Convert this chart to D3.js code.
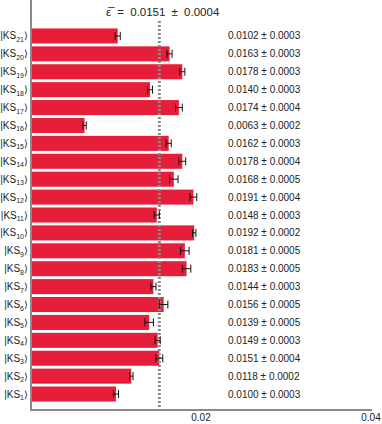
<!DOCTYPE html>
<html>
<head>
<meta charset="utf-8">
<script src="https://cdn.jsdelivr.net/npm/d3@7"></script>
<style>
  body { margin: 0; background: #fff; }
  text { font-family: "Liberation Sans", Arial, sans-serif; }
</style>
</head>
<body>
<svg id="chart" width="382" height="424"></svg>
<script>
// states listed top to bottom
const states = [21, 20, 19, 18, 17, 16, 15, 14, 13, 12, 11, 10, 9, 8, 7, 6, 5, 4, 3, 2, 1];
const values = [0.0102, 0.0163, 0.0178, 0.0140, 0.0174, 0.0063, 0.0162, 0.0178, 0.0168, 0.0191, 0.0148,
  0.0192, 0.0181, 0.0183, 0.0144, 0.0156, 0.0139, 0.0149, 0.0151, 0.0118, 0.0100];
const errors = [0.0003, 0.0003, 0.0003, 0.0003, 0.0004, 0.0002, 0.0003, 0.0004, 0.0005, 0.0004, 0.0003,
  0.0002, 0.0005, 0.0005, 0.0003, 0.0005, 0.0005, 0.0003, 0.0004, 0.0002, 0.0003];
const meanValue = 0.0151;
const meanError = 0.0004;
const xTicks = [0.02, 0.04];

const data = states.map((s, i) => ({ state: s, value: values[i], err: errors[i] }));

const svg = d3.select("#chart");
const x = d3.scaleLinear().domain([0, 0.04]).range([31, 371]);
const y = d3.scaleBand().domain(states).range([27, 403]).paddingInner(0.16).paddingOuter(0.08);
const barColor = "#e61e3a";
const axisColor = "#8a8a8a";

// bars
svg.selectAll(".bar")
  .data(data)
  .join("rect")
  .attr("class", "bar")
  .attr("x", x(0))
  .attr("y", d => y(d.state))
  .attr("width", d => x(d.value) - x(0))
  .attr("height", y.bandwidth())
  .attr("fill", barColor);

// mean line
svg.append("line")
  .attr("x1", x(meanValue)).attr("x2", x(meanValue))
  .attr("y1", 21).attr("y2", 410)
  .attr("stroke", "#8c8c8c")
  .attr("stroke-width", 3)
  .attr("stroke-dasharray", "2,2");

// error bars
const eb = svg.selectAll(".err")
  .data(data)
  .join("g")
  .attr("class", "err")
  .attr("transform", d => `translate(0,${y(d.state) + y.bandwidth() / 2})`);
eb.append("line")
  .attr("x1", d => x(d.value - d.err)).attr("x2", d => x(d.value + d.err))
  .attr("stroke", "#111").attr("stroke-width", 1);
eb.append("line")
  .attr("x1", d => x(d.value - d.err)).attr("x2", d => x(d.value - d.err))
  .attr("y1", -4).attr("y2", 4)
  .attr("stroke", "#111").attr("stroke-width", 1);
eb.append("line")
  .attr("x1", d => x(d.value + d.err)).attr("x2", d => x(d.value + d.err))
  .attr("y1", -4).attr("y2", 4)
  .attr("stroke", "#111").attr("stroke-width", 1);

// state labels
const lab = svg.selectAll(".lab")
  .data(data)
  .join("text")
  .attr("class", "lab")
  .attr("x", 28)
  .attr("y", d => y(d.state) + y.bandwidth() / 2 + 3.5)
  .attr("text-anchor", "end")
  .attr("font-size", 10)
  .attr("fill", "#222");
lab.append("tspan").text("|KS");
lab.append("tspan").attr("font-size", 7).attr("dy", 2.5).text(d => d.state);
lab.append("tspan").attr("dy", -2.5).text("\u27E9");

// value labels
svg.selectAll(".val")
  .data(data)
  .join("text")
  .attr("class", "val")
  .attr("x", 228)
  .attr("y", d => y(d.state) + y.bandwidth() / 2 + 3.5)
  .attr("font-size", 10)
  .attr("fill", "#222")
  .text(d => `${d.value.toFixed(4)} \u00B1 ${d.err.toFixed(4)}`);

// mean title
svg.append("text")
  .attr("x", 106)
  .attr("y", 16)
  .attr("font-size", 11.5)
  .attr("word-spacing", 3)
  .attr("fill", "#222")
  .text(`\u03B5\u0305 = ${meanValue.toFixed(4)} \u00B1 ${meanError.toFixed(4)}`);

// axes
svg.append("line")
  .attr("x1", x(0)).attr("x2", x(0)).attr("y1", 0).attr("y2", 411)
  .attr("stroke", axisColor).attr("stroke-width", 2);
svg.append("line")
  .attr("x1", x(0) - 1).attr("x2", x(0.04) + 1).attr("y1", 410).attr("y2", 410)
  .attr("stroke", axisColor).attr("stroke-width", 2);

svg.selectAll(".tick")
  .data(xTicks)
  .join("text")
  .attr("class", "tick")
  .attr("x", d => x(d))
  .attr("y", 421)
  .attr("text-anchor", "middle")
  .attr("font-size", 10)
  .attr("fill", "#222")
  .text(d => d.toFixed(2));
</script>
</body>
</html>
